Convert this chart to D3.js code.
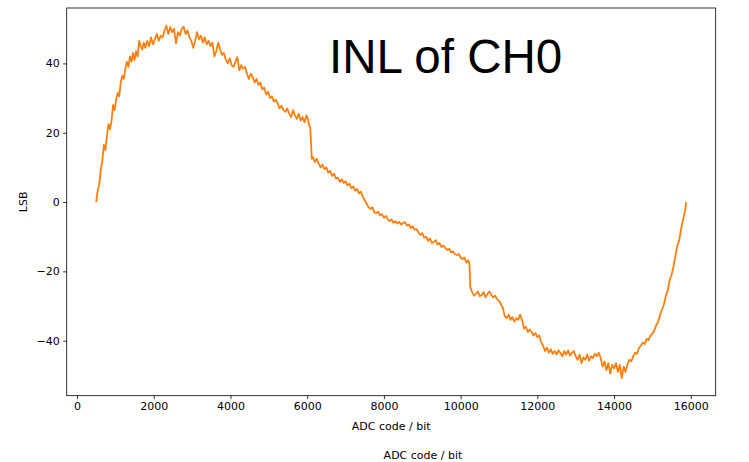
<!DOCTYPE html>
<html>
<head>
<meta charset="utf-8">
<script src="https://cdn.jsdelivr.net/npm/d3@7"></script>
<style>
  html, body { margin: 0; padding: 0; background: #fff; }
  svg { display: block; }
  text { font-family: "DejaVu Sans", sans-serif; fill: #000; }
</style>
</head>
<body>
<script>
// ---- data ----
const adcCode = [
  500,540,580,620,660,700,740,780,820,860,900,940,980,1020,1060,1100,1140,1180,1220,1260,1300,1340,1380,1420,1460,1500,1540,1580,1620,1660,1700,1740,
  1780,1830,1880,1930,1980,2030,2080,2130,2180,2230,2280,2330,2380,2430,2480,2530,2580,2630,2680,2730,2780,2830,2880,2930,2980,
  3030,3080,3130,3180,3230,3280,3330,3380,3430,3480,3530,3580,3630,3680,3730,3780,3830,3880,3930,3980,4030,4080,4130,4180,4230,4280,4330,4380,4430,4480,4530,4580,4630,4680,4730,4780,4830,4880,4930,4980,5030,5080,5130,5180,5230,5280,5330,5380,5430,5480,5530,5580,5630,5680,5730,5780,5830,5880,5930,5980,6020,6050,6080,6100,6120,
  6150,6200,6250,6300,6350,6400,6450,6500,6550,6600,6650,6700,6750,6800,6850,6900,6950,7000,7050,7100,7150,7200,7250,7300,7350,7400,7450,7500,7550,7600,7650,7700,7750,7800,7850,7900,7950,8000,8050,8100,8150,8200,8250,8300,8350,8400,8450,8500,8550,8600,8650,8700,8750,8800,8850,8900,8950,9000,9050,9100,9150,9200,9250,9300,9350,9400,9450,9500,9550,9600,9650,9700,9750,9800,9850,9900,9950,10000,10050,10100,10150,10200,10230,10250,
  10300,10350,10400,10450,10500,10550,10600,10650,10700,10750,10800,10850,10900,10950,11000,11050,11100,11150,11200,11250,11300,11350,11400,11450,11500,11550,11600,11650,11700,11750,11800,11850,11900,11950,12000,12050,12100,12150,12200,12250,12300,12350,12400,12450,12500,12550,12600,12650,12700,12750,12800,12850,12900,12950,13000,13050,13100,13150,13200,13250,13300,13350,13400,13450,13500,13550,13600,13650,13700,13750,13800,13850,13900,13950,14000,14050,14100,14150,14200,14250,14300,14350,14400,14450,14500,14550,14600,14650,14700,14750,14800,14850,14900,14950,15000,15050,15100,15150,15200,15250,15300,15350,15400,15450,15500,15550,15600,15650,15700,15750,15800,15850,15880
];
const inlLsb = [
  0,3.5,5,9.5,12,16.5,15,19,22.5,21,23.5,28,26.5,29.5,31.5,30.5,34.5,36.5,35.5,38.5,40.5,39,42,40.5,43,41,43.5,42,46.5,45,44,46,
  44.5,46.5,45,47.5,45.5,47,48.5,46.5,48,47.5,49.5,50.9,48.5,50.5,49,50,45.8,49,48,50,50.6,48.5,49.5,47.5,46.5,
  44.5,46.5,49,47,48,46,47.5,45.5,46.5,45,46,42,43.5,46,44,42.5,43,41,40,41.5,39.5,39,40.5,41.8,38,39.5,38.5,39,37,35.5,37,36,34.5,35.5,33.8,34.5,32.5,33,31,31.8,30,30.5,29,29.5,28.5,27,27.8,26.5,26,27,25.5,24.5,26.5,25,24,25.5,23.5,24.5,23,25,24,22,21.5,17,12.5,
  13,11.5,12.5,11,10,10.8,9.5,10,8.5,9,7.5,8.2,6.8,7,5.8,6.6,5.5,6,4.8,5.3,4,4.5,3.2,3.8,2.5,3,1.5,0.5,-0.5,-1.5,-2,-1.5,-3,-3.2,-2.8,-3.8,-3.5,-4.5,-4,-5,-5.5,-5,-6,-5.5,-6.2,-5.7,-6.5,-6,-5.8,-6.8,-6.5,-7.5,-7,-8,-7.8,-8.8,-9.5,-9,-10.3,-10,-11.2,-10.5,-11.8,-11.5,-11,-12.3,-11.8,-13,-12.5,-13.3,-13.8,-13.5,-14.5,-14.2,-15,-15.3,-15,-16,-16.5,-16,-17.5,-16.8,-18,-24.5,
  -26,-27,-26.5,-25.8,-27.2,-26.8,-26,-27.5,-26.5,-25.8,-26.8,-27.5,-27,-28,-28.5,-29.5,-30.5,-33,-33.5,-32.5,-34,-33.2,-34.5,-33.5,-34,-32.5,-34,-36.5,-36,-37.5,-36.8,-37.5,-38.5,-37.8,-39,-38.5,-40.5,-41.5,-43,-42,-43.5,-42.5,-43.8,-43,-44,-42.8,-43.5,-44.5,-43,-44,-42.8,-44.3,-43.5,-43,-44.5,-45.5,-44,-46.5,-44.8,-45.5,-44,-45.8,-44.5,-45,-43.8,-44.5,-43.5,-45,-47.5,-46,-48.5,-46.5,-49.5,-47,-48,-46.5,-49,-47,-50.8,-47.5,-49,-46.8,-45.5,-46,-44.5,-43.5,-43.8,-42,-41.5,-40.5,-41,-39.5,-39.8,-38.5,-38,-37,-35.5,-34.5,-32.5,-31,-29.5,-27,-25.5,-22.5,-21,-18.5,-15.5,-12.5,-11,-7.5,-5,-2.5,0
];
const xTicks = [0, 2000, 4000, 6000, 8000, 10000, 12000, 14000, 16000];
const yTicks = [-40, -20, 0, 20, 40];
const chartTitle = "INL of CH0";
const xLabel = "ADC code / bit";
const yLabel = "LSB";
const figLabel = "ADC code / bit";

// ---- layout ----
const W = 749, H = 462;
const L = 66.7, R = 715.7, T = 8, B = 395.7;

const svg = d3.select("body").append("svg").attr("width", W).attr("height", H);

const data = adcCode.map((c, i) => ({ x: c, y: inlLsb[i] }));
const xExt = d3.extent(adcCode), yExt = d3.extent(inlLsb);
const xPad = (xExt[1] - xExt[0]) * 0.05, yPad = (yExt[1] - yExt[0]) * 0.05;

const x = d3.scaleLinear().domain([xExt[0] - xPad, xExt[1] + xPad]).range([L, R]);
const y = d3.scaleLinear().domain([yExt[0] - yPad, yExt[1] + yPad]).range([B, T]);

// line
svg.append("path")
  .datum(data)
  .attr("fill", "none")
  .attr("stroke", "#ff7f0e")
  .attr("stroke-width", 1.8)
  .attr("stroke-linejoin", "round")
  .attr("d", d3.line().x(d => x(d.x)).y(d => y(d.y)));

// axes
const xAxis = d3.axisBottom(x).tickValues(xTicks).tickSize(3.5).tickPadding(3.5).tickFormat(d3.format("d"));
const yAxis = d3.axisLeft(y).tickValues(yTicks).tickSize(3.5).tickPadding(3.5)
  .tickFormat(d => d < 0 ? "\u2212" + Math.abs(d) : String(d));

const gx = svg.append("g").attr("transform", `translate(0,${B})`).call(xAxis);
const gy = svg.append("g").attr("transform", `translate(${L},0)`).call(yAxis);
[gx, gy].forEach(g => {
  g.select(".domain").remove();
  g.selectAll(".tick line").attr("stroke", "#000").attr("stroke-width", 0.8);
  g.selectAll(".tick text").attr("font-family", "DejaVu Sans").attr("font-size", 11).attr("fill", "#000");
});

// frame
svg.append("rect")
  .attr("x", L).attr("y", T).attr("width", R - L).attr("height", B - T)
  .attr("fill", "none").attr("stroke", "#000").attr("stroke-width", 0.8);

// labels
svg.append("text").attr("x", (L + R) / 2).attr("y", 429.5)
  .attr("text-anchor", "middle").attr("font-size", 11).text(xLabel);
svg.append("text").attr("transform", `translate(26.5,${(T + B) / 2}) rotate(-90)`)
  .attr("text-anchor", "middle").attr("font-size", 11).text(yLabel);
svg.append("text").attr("x", 423).attr("y", 458.5)
  .attr("text-anchor", "middle").attr("font-size", 11).text(figLabel);

// big title inside axes
svg.append("text").attr("x", 329).attr("y", 72.7)
  .attr("style", "font-family: 'Liberation Sans', Arial, sans-serif")
  .attr("font-size", 47.5).text(chartTitle);
</script>
</body>
</html>
